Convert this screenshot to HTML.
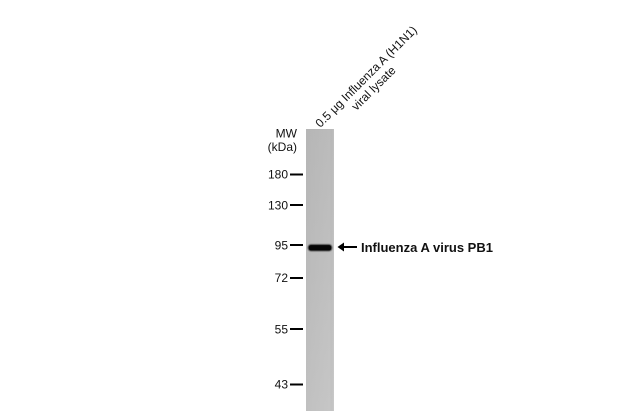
<!DOCTYPE html>
<html><head><meta charset="utf-8"><style>
html,body{margin:0;padding:0;background:#fff;}
body{width:640px;height:415px;overflow:hidden;}
svg{display:block;}
text{font-family:"Liberation Sans",Arial,sans-serif;fill:#111;}
</style></head><body>
<svg width="640" height="415" viewBox="0 0 640 415" xmlns="http://www.w3.org/2000/svg">
<defs>
<linearGradient id="lane" x1="0" y1="0" x2="0" y2="1">
<stop offset="0" stop-color="#bbbbbb"/>
<stop offset="0.5" stop-color="#c0c0c0"/>
<stop offset="1" stop-color="#c6c6c6"/>
</linearGradient>
<linearGradient id="laneh" x1="0" y1="0" x2="1" y2="0">
<stop offset="0" stop-color="#000" stop-opacity="0.03"/>
<stop offset="0.85" stop-color="#000" stop-opacity="0"/>
<stop offset="1" stop-color="#fff" stop-opacity="0.08"/>
</linearGradient>
<filter id="blur" x="-20%" y="-100%" width="140%" height="300%"><feGaussianBlur stdDeviation="0.9"/></filter>
</defs>
<rect x="306" y="129" width="28" height="282" fill="url(#lane)"/>
<rect x="306" y="129" width="28" height="282" fill="url(#laneh)"/>
<rect x="308" y="244.5" width="24" height="6.5" rx="3" ry="3" fill="#0a0a0a" filter="url(#blur)"/>
<rect x="309" y="245.3" width="22" height="5" rx="2" fill="#050505"/>

<text x="297" y="137.5" font-size="12" text-anchor="end">MW</text>
<text x="297" y="151" font-size="12" text-anchor="end">(kDa)</text>

<g font-size="12" text-anchor="end">
<text x="288" y="178.5">180</text>
<text x="288" y="209.5">130</text>
<text x="288" y="249.5">95</text>
<text x="288" y="282">72</text>
<text x="288" y="333.5">55</text>
<text x="288" y="388.5">43</text>
</g>
<g fill="#000">
<rect x="290" y="173.5" width="13" height="2"/>
<rect x="290" y="204" width="13" height="2"/>
<rect x="290" y="244" width="13" height="2"/>
<rect x="290" y="277" width="13" height="2"/>
<rect x="290" y="328" width="13" height="2"/>
<rect x="290" y="383.5" width="13" height="2"/>
</g>

<line x1="341" y1="247" x2="357" y2="247" stroke="#000" stroke-width="2"/>
<polygon points="337.5,247 344,242.5 344,251.5" fill="#000"/>
<text x="361" y="252" font-size="13" font-weight="bold">Influenza A virus PB1</text>

<g transform="translate(366.5,77) rotate(-45)" font-size="12" text-anchor="middle">
<text x="0" y="3.5">0.5 μg Influenza A (H1N1)</text>
<text x="-3" y="17">viral lysate</text>
</g>
</svg>
</body></html>
